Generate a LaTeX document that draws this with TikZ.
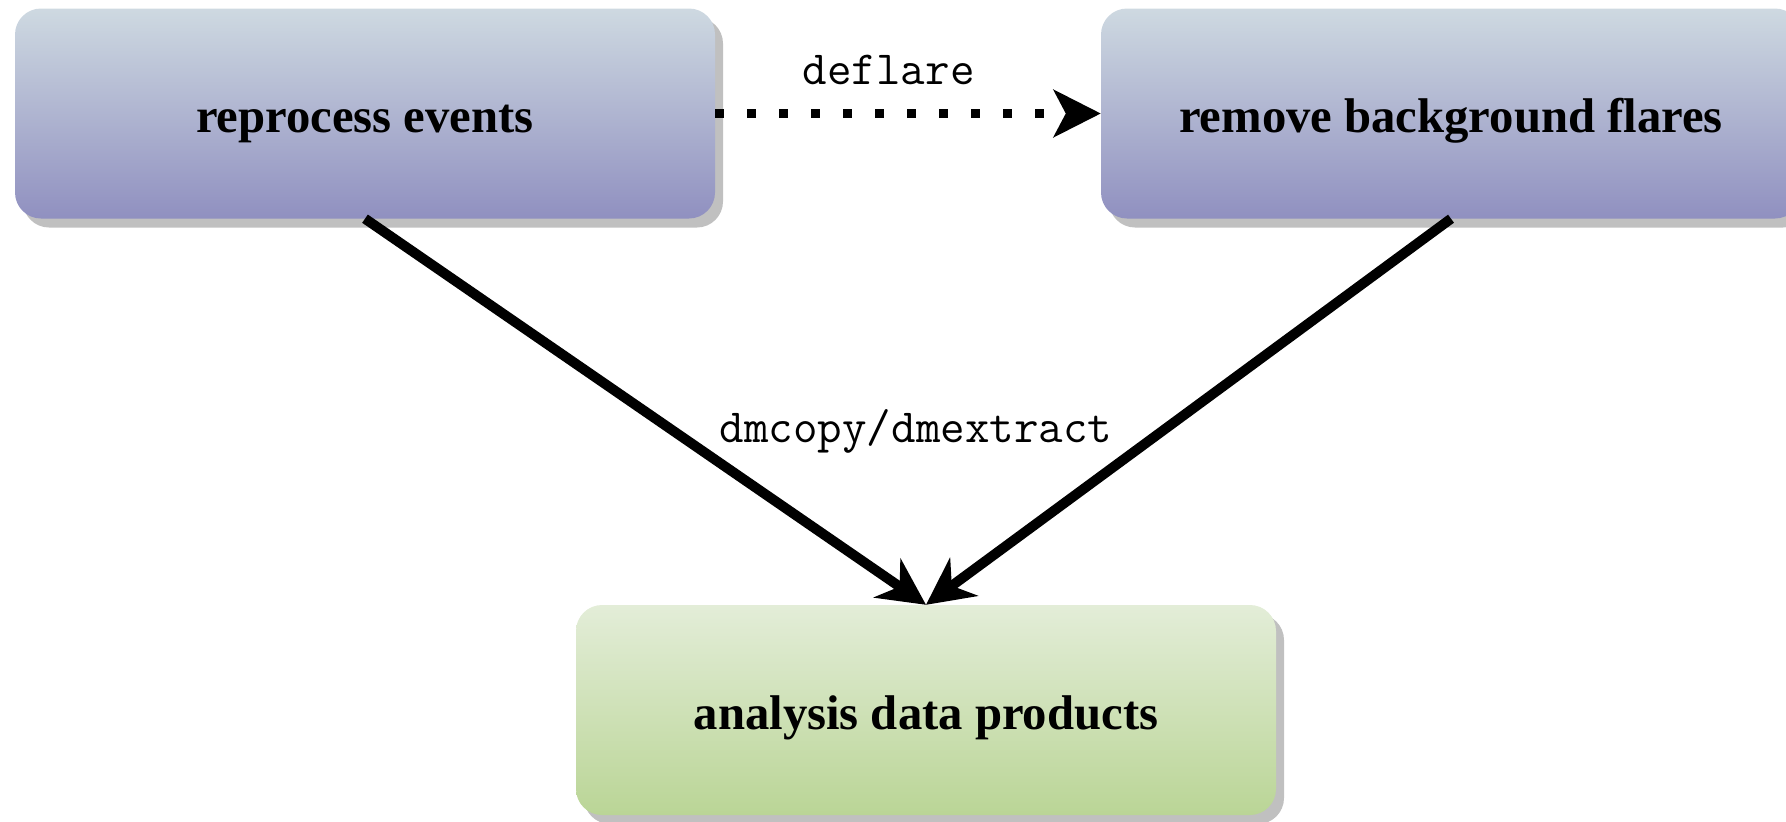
\documentclass[tikz,border=0pt]{standalone}
\usepackage{fontspec}
\setmainfont{Liberation Serif}
\usetikzlibrary{arrows.meta,shadows}

\definecolor{steptop}{RGB}{206,217,225}
\definecolor{stepbottom}{RGB}{144,144,192}
\definecolor{resulttop}{RGB}{227,237,216}
\definecolor{resultbottom}{RGB}{186,213,150}
\definecolor{shadowgray}{RGB}{192,192,192}

\begin{document}
\begin{tikzpicture}[x=1pt, y=-1pt,
  box/.style={rounded corners=26pt, minimum width=700pt, minimum height=210pt,
    inner sep=0pt, text height=38pt, text depth=0pt,
    font=\fontsize{48.7}{58}\selectfont\bfseries,
    drop shadow={shadow xshift=8pt, shadow yshift=-9pt, fill=shadowgray, opacity=1}},
  taskbox/.style={box, top color=steptop, bottom color=stepbottom},
  productbox/.style={box, top color=resulttop, bottom color=resultbottom},
  toollabel/.style={font=\fontsize{47.6}{56}\selectfont\ttfamily, inner sep=0pt},
  flow/.style={line width=10pt, -{Stealth[length=47pt, width=47pt, inset=15pt]}},
  dotflow/.style={line width=9pt, dash pattern=on 9pt off 23pt,
    -{Stealth[length=47pt, width=47pt, inset=12pt]}}
]

  % Fix the page to the size of the reference
  \useasboundingbox (0,0) rectangle (1786,822);

  % The two processing steps along the top
  \node[taskbox] (reprocess) at (365,113.5) {reprocess events};
  \node[taskbox] (deflare) at (1451,113.5) {remove background flares};

  % The products at the bottom
  \node[productbox] (products) at (926,710) {analysis data products};

  % Optional flare removal step
  \draw[dotflow] (reprocess) -- (deflare) node[toollabel, pos=0.45, above=24pt] {deflare};

  % Both steps feed the analysis products
  \draw[flow] (reprocess.south) -- (products.north);
  \draw[flow] (deflare.south) -- (products.north);
  \node[toollabel, anchor=base] (extract) at (916,442) {dmcopy/dmextract};

\end{tikzpicture}
\end{document}
